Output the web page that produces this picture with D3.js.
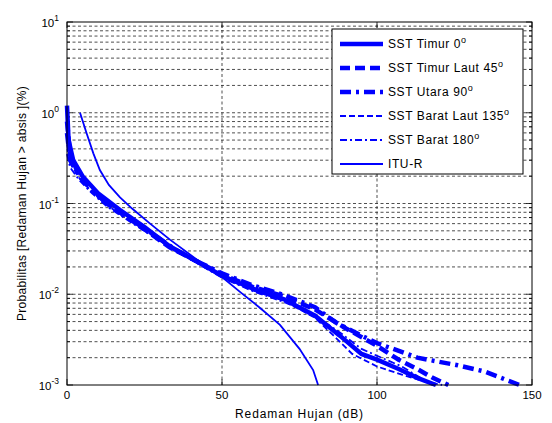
<!DOCTYPE html>
<html>
<head>
<meta charset="utf-8">
<script src="https://cdn.jsdelivr.net/npm/d3@7"></script>
<style>
  body { margin: 0; background: #fff; }
  text { font-family: "Liberation Sans", Arial, sans-serif; fill: #000; }
</style>
</head>
<body>
<div id="chart"></div>
<script>
// attenuation (dB) vs probability (%)
const timur0 = [[0,1.2],[0.5,0.5],[2,0.3],[5,0.2],[10,0.13],[17,0.085],[25,0.055],[33,0.034],[40,0.025],[50,0.016],[60,0.0115],[70,0.0088],[80,0.0058],[88,0.0035],[95,0.0022],[100,0.0019],[107,0.0015],[113,0.0012],[119,0.001]];
const timurLaut45 = [[0,0.8],[1,0.35],[3,0.24],[6,0.17],[10,0.125],[17,0.08],[25,0.052],[33,0.033],[40,0.025],[50,0.0165],[60,0.012],[70,0.0095],[80,0.0068],[90,0.0042],[100,0.0027],[107,0.0019],[113,0.0015],[118,0.0012],[123,0.001]];
const utara90 = [[0,0.6],[1,0.3],[4,0.2],[8,0.14],[13,0.1],[20,0.07],[27,0.048],[35,0.031],[42,0.023],[50,0.017],[60,0.0125],[70,0.0098],[80,0.0072],[87,0.0048],[95,0.0035],[100,0.0029],[113,0.002],[126,0.00165],[135,0.0014],[140,0.0012],[146,0.001]];
const baratLaut135 = [[0,0.45],[1,0.28],[4,0.19],[8,0.135],[13,0.095],[20,0.066],[27,0.046],[35,0.03],[42,0.022],[50,0.0155],[60,0.011],[70,0.0085],[80,0.0055],[86,0.0035],[92,0.0022],[100,0.0016],[108,0.0013],[115,0.0011],[121,0.001]];
const barat180 = [[0,0.35],[1,0.25],[4,0.18],[8,0.13],[13,0.092],[20,0.064],[27,0.045],[35,0.03],[42,0.022],[50,0.0152],[60,0.0108],[70,0.0082],[80,0.0058],[88,0.0038],[95,0.0025],[100,0.0021],[108,0.0016],[114,0.0012],[118,0.001]];
const ituR = [[4.2,1.0],[6.35,0.59],[8.5,0.357],[10.6,0.234],[13.5,0.16],[17.1,0.117],[21,0.088],[26.8,0.06],[33.2,0.04],[42.9,0.0227],[50,0.0155],[56,0.0105],[62,0.0072],[68.7,0.0046],[75,0.0025],[79.4,0.00146],[81,0.001]];

const seriesNames = ["SST Timur 0", "SST Timur Laut 45", "SST Utara 90", "SST Barat Laut 135", "SST Barat 180", "ITU-R"];
const xTicks = [0, 50, 100, 150];
const yDecades = [-3, -2, -1, 0, 1];

const width = 552, height = 423;
const margin = { top: 22, right: 20, bottom: 38, left: 67 };

const svg = d3.select("#chart").append("svg")
    .attr("width", width)
    .attr("height", height);

const xScale = d3.scaleLinear()
    .domain([0, 150])
    .range([margin.left, width - margin.right]);

const yScale = d3.scaleLog()
    .domain([1e-3, 10])
    .range([height - margin.bottom, margin.top]);

const x0 = xScale.range()[0], x1 = xScale.range()[1];
const y0 = yScale.range()[0], y1 = yScale.range()[1];

// styles for each series
const styles = [
    { data: timur0, width: 4.5, dash: null },
    { data: timurLaut45, width: 4.5, dash: "10,5" },
    { data: utara90, width: 4.5, dash: "11,5,3,5" },
    { data: baratLaut135, width: 1.8, dash: "6,3" },
    { data: barat180, width: 1.8, dash: "7,3,2,3" },
    { data: ituR, width: 1.8, dash: null }
];

// minor log values for the grid
const gridVals = [];
for (let e = -3; e < 1; e++) {
    for (let m = 1; m <= 9; m++) gridVals.push(m * Math.pow(10, e));
}
gridVals.push(10);

// horizontal dashed grid
svg.append("g")
    .selectAll("line")
    .data(gridVals.filter(v => v > 1e-3 && v < 10))
    .enter().append("line")
    .attr("x1", x0).attr("x2", x1)
    .attr("y1", d => yScale(d)).attr("y2", d => yScale(d))
    .attr("stroke", "#222")
    .attr("stroke-width", 0.8)
    .attr("stroke-dasharray", "3,2.5");

// vertical dashed grid
svg.append("g")
    .selectAll("line")
    .data(xTicks.slice(1, -1))
    .enter().append("line")
    .attr("x1", d => xScale(d)).attr("x2", d => xScale(d))
    .attr("y1", y0).attr("y2", y1)
    .attr("stroke", "#222")
    .attr("stroke-width", 0.8)
    .attr("stroke-dasharray", "3,2.5");

// inner ticks
const ticks = svg.append("g").attr("stroke", "#000").attr("stroke-width", 0.8);
gridVals.forEach(v => {
    const len = Number.isInteger(Math.log10(v)) ? 6 : 3;
    ticks.append("line").attr("x1", x0).attr("x2", x0 + len).attr("y1", yScale(v)).attr("y2", yScale(v));
    ticks.append("line").attr("x1", x1).attr("x2", x1 - len).attr("y1", yScale(v)).attr("y2", yScale(v));
});
xTicks.forEach(v => {
    ticks.append("line").attr("x1", xScale(v)).attr("x2", xScale(v)).attr("y1", y0).attr("y2", y0 - 6);
    ticks.append("line").attr("x1", xScale(v)).attr("x2", xScale(v)).attr("y1", y1).attr("y2", y1 + 6);
});

// curves
const line = d3.line()
    .x(d => xScale(d[0]))
    .y(d => yScale(d[1]));

const curves = svg.append("g");
styles.forEach(s => {
    curves.append("path")
        .datum(s.data)
        .attr("fill", "none")
        .attr("stroke", "#0000ff")
        .attr("stroke-width", s.width)
        .attr("stroke-dasharray", s.dash)
        .attr("d", line);
});

// plot frame
svg.append("rect")
    .attr("x", x0).attr("y", y1)
    .attr("width", x1 - x0).attr("height", y0 - y1)
    .attr("fill", "none")
    .attr("stroke", "#000")
    .attr("stroke-width", 1);

// x tick labels
svg.append("g")
    .selectAll("text")
    .data(xTicks)
    .enter().append("text")
    .attr("x", d => xScale(d))
    .attr("y", y0 + 14)
    .attr("text-anchor", "middle")
    .attr("font-size", 11.5)
    .text(d => d);

// y tick labels 10^n
yDecades.forEach(e => {
    const t = svg.append("text")
        .attr("x", x0 - 8)
        .attr("y", yScale(Math.pow(10, e)) + 5)
        .attr("text-anchor", "end")
        .attr("font-size", 11.5);
    t.append("tspan").text("10");
    t.append("tspan").attr("dy", -6).attr("font-size", 8.5).text(e);
});

// axis labels
svg.append("text")
    .attr("x", (x0 + x1) / 2)
    .attr("y", 418)
    .attr("text-anchor", "middle")
    .attr("font-size", 12)
    .attr("letter-spacing", 0.9)
    .text("Redaman Hujan (dB)");

svg.append("text")
    .attr("transform", `translate(26,${(y0 + y1) / 2}) rotate(-90)`)
    .attr("text-anchor", "middle")
    .attr("font-size", 12)
    .attr("letter-spacing", 0.3)
    .text("Probabilitas [Redaman Hujan > absis ](%)");

// legend
const legend = svg.append("g");
legend.append("rect")
    .attr("x", 332).attr("y", 29)
    .attr("width", 191).attr("height", 145)
    .attr("fill", "#fff")
    .attr("stroke", "#000")
    .attr("stroke-width", 1);

styles.forEach((s, i) => {
    const ly = 44 + i * 24;
    legend.append("line")
        .attr("x1", 340).attr("x2", 383)
        .attr("y1", ly).attr("y2", ly)
        .attr("stroke", "#0000ff")
        .attr("stroke-width", s.width)
        .attr("stroke-dasharray", s.dash);
    const t = legend.append("text")
        .attr("x", 388)
        .attr("y", ly + 4)
        .attr("font-size", 12)
        .attr("letter-spacing", 0.6);
    t.append("tspan").text(seriesNames[i]);
    if (i < 5) t.append("tspan").attr("dy", -5).attr("font-size", 9).text("o");
});
</script>
</body>
</html>
